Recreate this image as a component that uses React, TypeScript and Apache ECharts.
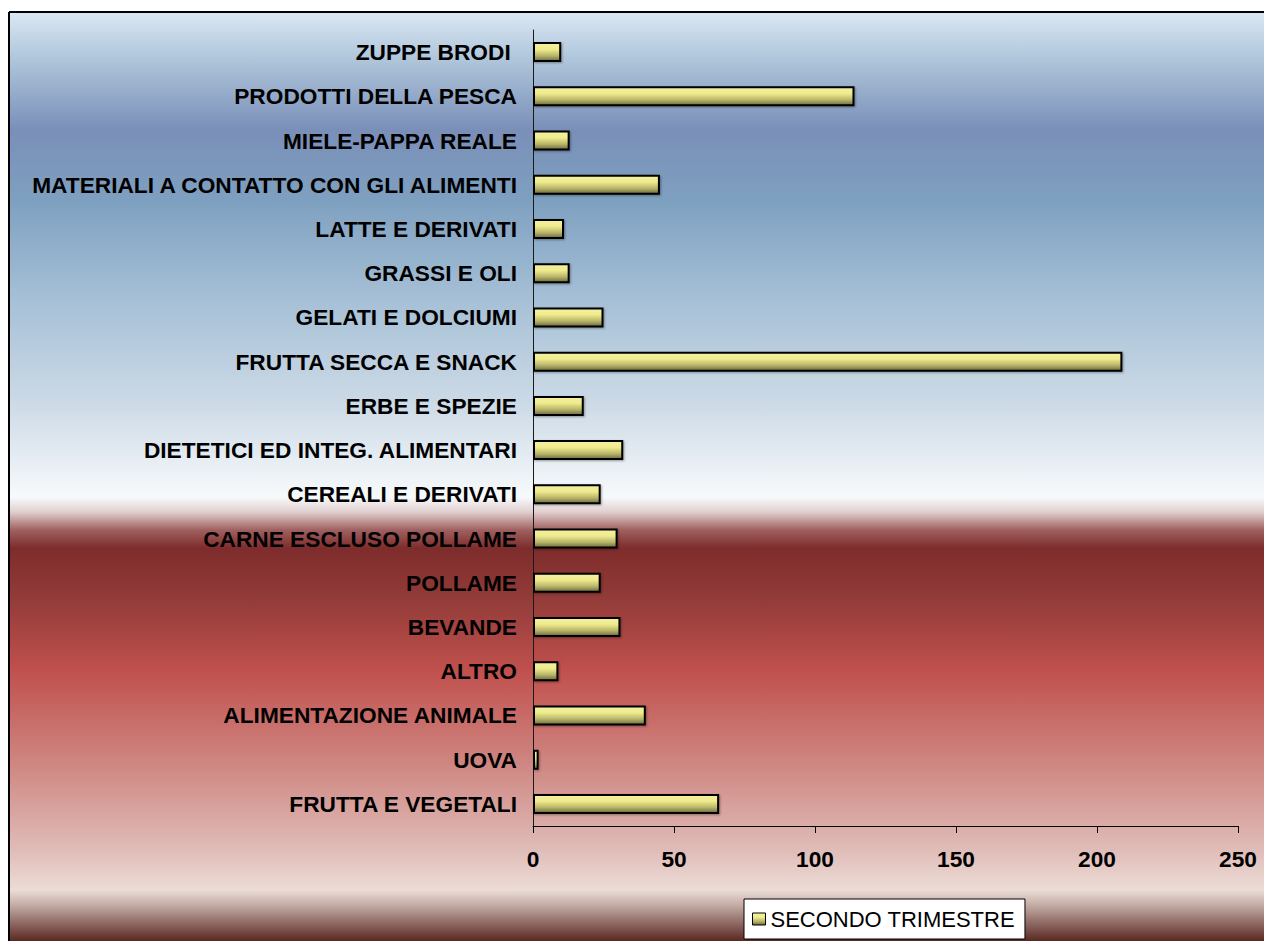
import React, { useEffect, useRef } from "react";
import * as echarts from "echarts";

const categories = [
  "ZUPPE BRODI ",
  "PRODOTTI DELLA PESCA",
  "MIELE-PAPPA REALE",
  "MATERIALI A CONTATTO CON GLI ALIMENTI",
  "LATTE E DERIVATI",
  "GRASSI E OLI",
  "GELATI E DOLCIUMI",
  "FRUTTA SECCA E SNACK",
  "ERBE E SPEZIE",
  "DIETETICI ED INTEG. ALIMENTARI",
  "CEREALI E DERIVATI",
  "CARNE ESCLUSO POLLAME",
  "POLLAME",
  "BEVANDE",
  "ALTRO",
  "ALIMENTAZIONE ANIMALE",
  "UOVA",
  "FRUTTA E VEGETALI",
];

const secondoTrimestre = [10, 114, 13, 45, 11, 13, 25, 209, 18, 32, 24, 30, 24, 31, 9, 40, 2, 66];

const seriesName = "SECONDO TRIMESTRE";
const xTicks = { min: 0, max: 250, interval: 50 };

const FONT = "'Liberation Sans', Arial, sans-serif";

export default function App() {
  const ref = useRef<HTMLDivElement>(null);

  useEffect(() => {
    if (!ref.current) return;
    const chart = echarts.init(ref.current, null, { renderer: "svg" });

    const barFill = new echarts.graphic.LinearGradient(0, 0, 0, 1, [
      { offset: 0, color: "#f4f0a4" },
      { offset: 0.35, color: "#efeb8c" },
      { offset: 0.7, color: "#b8b46a" },
      { offset: 1, color: "#6c6a3e" },
    ]);

    const bgTop = 12;
    const bgH = 929;
    const stop = (y: number) => Math.min(1, Math.max(0, (y - bgTop) / bgH));
    const bgFill = new echarts.graphic.LinearGradient(0, 0, 0, 1, [
      { offset: stop(13), color: "#d9e7f3" },
      { offset: stop(60), color: "#aec5da" },
      { offset: stop(130), color: "#7a8fb8" },
      { offset: stop(200), color: "#7ea0c0" },
      { offset: stop(300), color: "#a6c0d6" },
      { offset: stop(400), color: "#cbd9e6" },
      { offset: stop(460), color: "#e6edf3" },
      { offset: stop(497), color: "#f7fafc" },
      { offset: stop(512), color: "#e2cfcf" },
      { offset: stop(530), color: "#a06060" },
      { offset: stop(548), color: "#7e2c2c" },
      { offset: stop(600), color: "#933c39" },
      { offset: stop(670), color: "#c0504d" },
      { offset: stop(770), color: "#d08a85" },
      { offset: stop(850), color: "#e0bcb8" },
      { offset: stop(890), color: "#ecdcd6" },
      { offset: stop(905), color: "#c4aca6" },
      { offset: 1, color: "#5a2822" },
    ]);

    chart.setOption({
      animation: false,
      textStyle: { fontFamily: FONT },
      graphic: [
        {
          type: "rect",
          z: -100,
          silent: true,
          shape: { x: 9, y: bgTop, width: 1260, height: bgH },
          style: { fill: bgFill },
        },
        {
          type: "line",
          z: -99,
          silent: true,
          shape: { x1: 9, y1: 12, x2: 1264, y2: 12 },
          style: { stroke: "#000", lineWidth: 2 },
        },
        {
          type: "line",
          z: -99,
          silent: true,
          shape: { x1: 9, y1: 12, x2: 9, y2: 941 },
          style: { stroke: "#000", lineWidth: 2 },
        },
      ],
      grid: { left: 533, right: 26, top: 30, bottom: 115, containLabel: false },
      legend: {
        show: true,
        left: 744,
        top: 899,
        orient: "horizontal",
        backgroundColor: "#ffffff",
        borderColor: "#000000",
        borderWidth: 1,
        borderRadius: 0,
        padding: [9, 10, 9, 8],
        itemWidth: 13,
        itemHeight: 12,
        icon: "rect",
        itemStyle: { borderColor: "#000", borderWidth: 1 },
        textStyle: { fontSize: 22, color: "#000", fontFamily: FONT, padding: [0, 0, 0, 0] },
        data: [seriesName],
      },
      xAxis: {
        type: "value",
        min: xTicks.min,
        max: xTicks.max,
        interval: xTicks.interval,
        axisLine: { show: true, lineStyle: { color: "#000", width: 1 } },
        axisTick: { show: true, length: 7, inside: false, lineStyle: { color: "#000" } },
        splitLine: { show: false },
        axisLabel: {
          margin: 21,
          fontSize: 22.7,
          fontWeight: "bold",
          color: "#000",
          fontFamily: FONT,
        },
      },
      yAxis: {
        type: "category",
        inverse: true,
        data: categories,
        axisLine: { show: true, lineStyle: { color: "#1a1a1a", width: 1 } },
        axisTick: { show: false },
        splitLine: { show: false },
        axisLabel: {
          margin: 16,
          fontSize: 22.7,
          fontWeight: "bold",
          color: "#000",
          fontFamily: FONT,
          interval: 0,
        },
      },
      series: [
        {
          name: seriesName,
          type: "bar",
          data: secondoTrimestre,
          barWidth: 20,
          itemStyle: {
            color: barFill,
            borderColor: "#000",
            borderWidth: 2,
            shadowColor: "rgba(0,0,0,0.35)",
            shadowBlur: 2,
            shadowOffsetX: 1,
            shadowOffsetY: 1,
          },
        },
      ],
    });

    return () => chart.dispose();
  }, []);

  return (
    <div
      ref={ref}
      style={{ position: "absolute", left: 0, top: 0, width: 1264, height: 941 }}
    />
  );
}
